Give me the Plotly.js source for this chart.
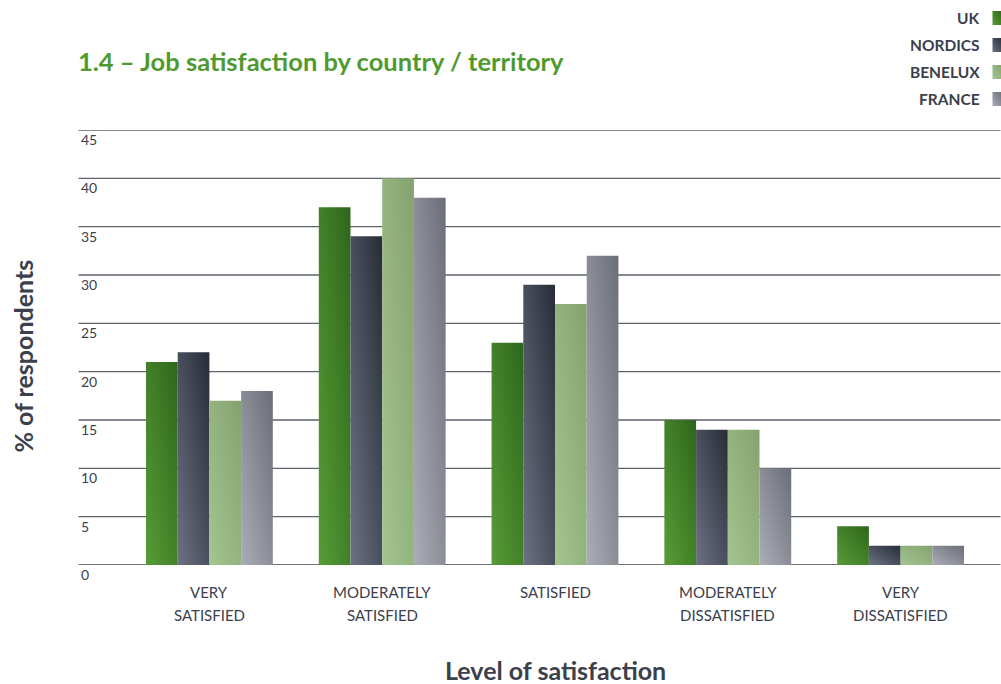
<!DOCTYPE html>
<html><head><meta charset="utf-8">
<script src="https://cdn.plot.ly/plotly-3.0.1.min.js"></script>
<style>html,body{margin:0;padding:0;background:#fff;}#chart{width:1001px;height:684px;}</style>
</head><body><div id="chart"></div>
<script>
const categories = ["VERY<br>SATISFIED", "MODERATELY<br>SATISFIED", "SATISFIED", "MODERATELY<br>DISSATISFIED", "VERY<br>DISSATISFIED"];
const seriesNames = ["UK", "NORDICS", "BENELUX", "FRANCE"];
const ukValues = [21, 37, 23, 15, 4];
const nordicsValues = [22, 34, 29, 14, 2];
const beneluxValues = [17, 40, 27, 14, 2];
const franceValues = [18, 38, 32, 10, 2];
const yTickValues = [0, 5, 10, 15, 20, 25, 30, 35, 40, 45];
const yTickLabels = ["0", "5", "10", "15", "20", "25", "30", "35", "40", "45"];

const seriesValues = [ukValues, nordicsValues, beneluxValues, franceValues];
const gradStops = [["#2e661c", "#579c36"], ["#272c37", "#6c7283"], ["#84a26f", "#a4c58f"], ["#6a6e78", "#abadb6"]];
const midColors = ["#44832a", "#4b5160", "#95b57f", "#8b8e97"];
const textColor = "#3b404b";
const fontFam = "Lato, 'Open Sans', sans-serif";

const traces = seriesNames.map((n, i) => ({
  type: "bar", name: n, x: categories, y: seriesValues[i],
  marker: {color: midColors[i], line: {width: 0}},
  hoverinfo: "x+y+name"
}));

const plotL = 122.5, plotR = 987.5, plotW = plotR - plotL;
const gx0 = (78 - plotL) / plotW, gx1 = (1001 - plotL) / plotW;

const shapes = [];
const annotations = [];
yTickValues.forEach((v, i) => {
  shapes.push({type: "line", xref: "paper", yref: "y", x0: gx0, x1: gx1, y0: v, y1: v,
    line: {color: v === 0 ? "#6c717a" : "#5c616a", width: v === 0 ? 2 : 1.3}, layer: "below"});
  annotations.push({xref: "paper", yref: "y", x: gx0, y: v, yshift: 1, xanchor: "left", yanchor: "top",
    text: yTickLabels[i], showarrow: false, font: {family: fontFam, size: 14, color: textColor}});
});
categories.forEach(c => {
  const lines = c.split("<br>");
  lines.forEach((ln, k) => {
    annotations.push({xref: "x", yref: "paper", x: c, y: 0, yshift: -27 - 23 * k, xanchor: "center", yanchor: "middle",
      text: ln, showarrow: false, font: {family: fontFam, size: 15, color: textColor}});
  });
});
// legend
const legY = [18, 45, 72, 99];
seriesNames.forEach((n, i) => {
  annotations.push({xref: "paper", yref: "paper", x: (982 - plotL) / plotW, y: 1 + (130 - legY[i]) / 435,
    xanchor: "right", yanchor: "middle", text: "<b>" + n + "</b>", showarrow: false,
    font: {family: fontFam, size: 15.5, color: textColor}});
  shapes.push({type: "rect", xref: "paper", yref: "paper",
    x0: (993 - plotL) / plotW, x1: (1003 - plotL) / plotW,
    y0: 1 + (130 - legY[i] - 7) / 435, y1: 1 + (130 - legY[i] + 7) / 435,
    fillcolor: midColors[i], line: {width: 0}});
});
// title
annotations.push({xref: "paper", yref: "paper", x: (75 - plotL) / plotW, y: 1 + (130 - 61) / 435,
  xanchor: "left", yanchor: "middle", text: "<b>1.4 – Job satisfaction by country / territory</b>", showarrow: false,
  font: {family: fontFam, size: 25.5, color: "#4f9a2f"}});
// axis titles
annotations.push({xref: "paper", yref: "paper", x: (555 - plotL) / plotW, y: (565 - 670) / 435,
  xanchor: "center", yanchor: "middle", text: "<b>Level of satisfaction</b>", showarrow: false,
  font: {family: fontFam, size: 25, color: textColor}});
annotations.push({xref: "paper", yref: "paper", x: (22 - plotL) / plotW, y: (565 - 356) / 435,
  xanchor: "center", yanchor: "middle", text: "<b>% of respondents</b>", showarrow: false, textangle: -90,
  font: {family: fontFam, size: 25, color: textColor}});

const layout = {
  width: 1001, height: 684,
  margin: {l: plotL, r: 1001 - plotR, t: 130, b: 119, pad: 0},
  paper_bgcolor: "#fff", plot_bgcolor: "rgba(0,0,0,0)",
  barmode: "group", bargap: 0.266, bargroupgap: 0,
  showlegend: false,
  xaxis: {type: "category", showticklabels: false, showgrid: false, zeroline: false, showline: false, ticks: ""},
  yaxis: {range: [0, 45], showticklabels: false, showgrid: false, zeroline: false, showline: false, ticks: ""},
  shapes: shapes, annotations: annotations
};

Plotly.newPlot("chart", traces, layout, {displayModeBar: false, staticPlot: true}).then(gd => {
  const svg = gd.querySelector("svg.main-svg");
  const ns = "http://www.w3.org/2000/svg";
  const defs = document.createElementNS(ns, "defs");
  gradStops.forEach((s, i) => {
    const g = document.createElementNS(ns, "linearGradient");
    g.setAttribute("id", "bargrad" + i);
    g.setAttribute("x1", "1"); g.setAttribute("y1", "0");
    g.setAttribute("x2", "0"); g.setAttribute("y2", "1");
    const a = document.createElementNS(ns, "stop"); a.setAttribute("offset", "0"); a.setAttribute("stop-color", s[0]);
    const b = document.createElementNS(ns, "stop"); b.setAttribute("offset", "1"); b.setAttribute("stop-color", s[1]);
    g.appendChild(a); g.appendChild(b); defs.appendChild(g);
  });
  svg.insertBefore(defs, svg.firstChild);
  gd.querySelectorAll(".barlayer .trace").forEach((t, i) => {
    t.querySelectorAll(".point path").forEach(p => { p.style.fill = "url(#bargrad" + i + ")"; });
  });
  gd.querySelectorAll(".shapelayer path").forEach(p => {
    const f = p.style.fill;
    midColors.forEach((c, i) => {
      const tmp = document.createElement("div"); tmp.style.color = c;
      if (f && f.replace(/\s/g, "") === tmp.style.color.replace(/\s/g, "")) p.style.fill = "url(#bargrad" + i + ")";
    });
  });
});
</script></body></html>
